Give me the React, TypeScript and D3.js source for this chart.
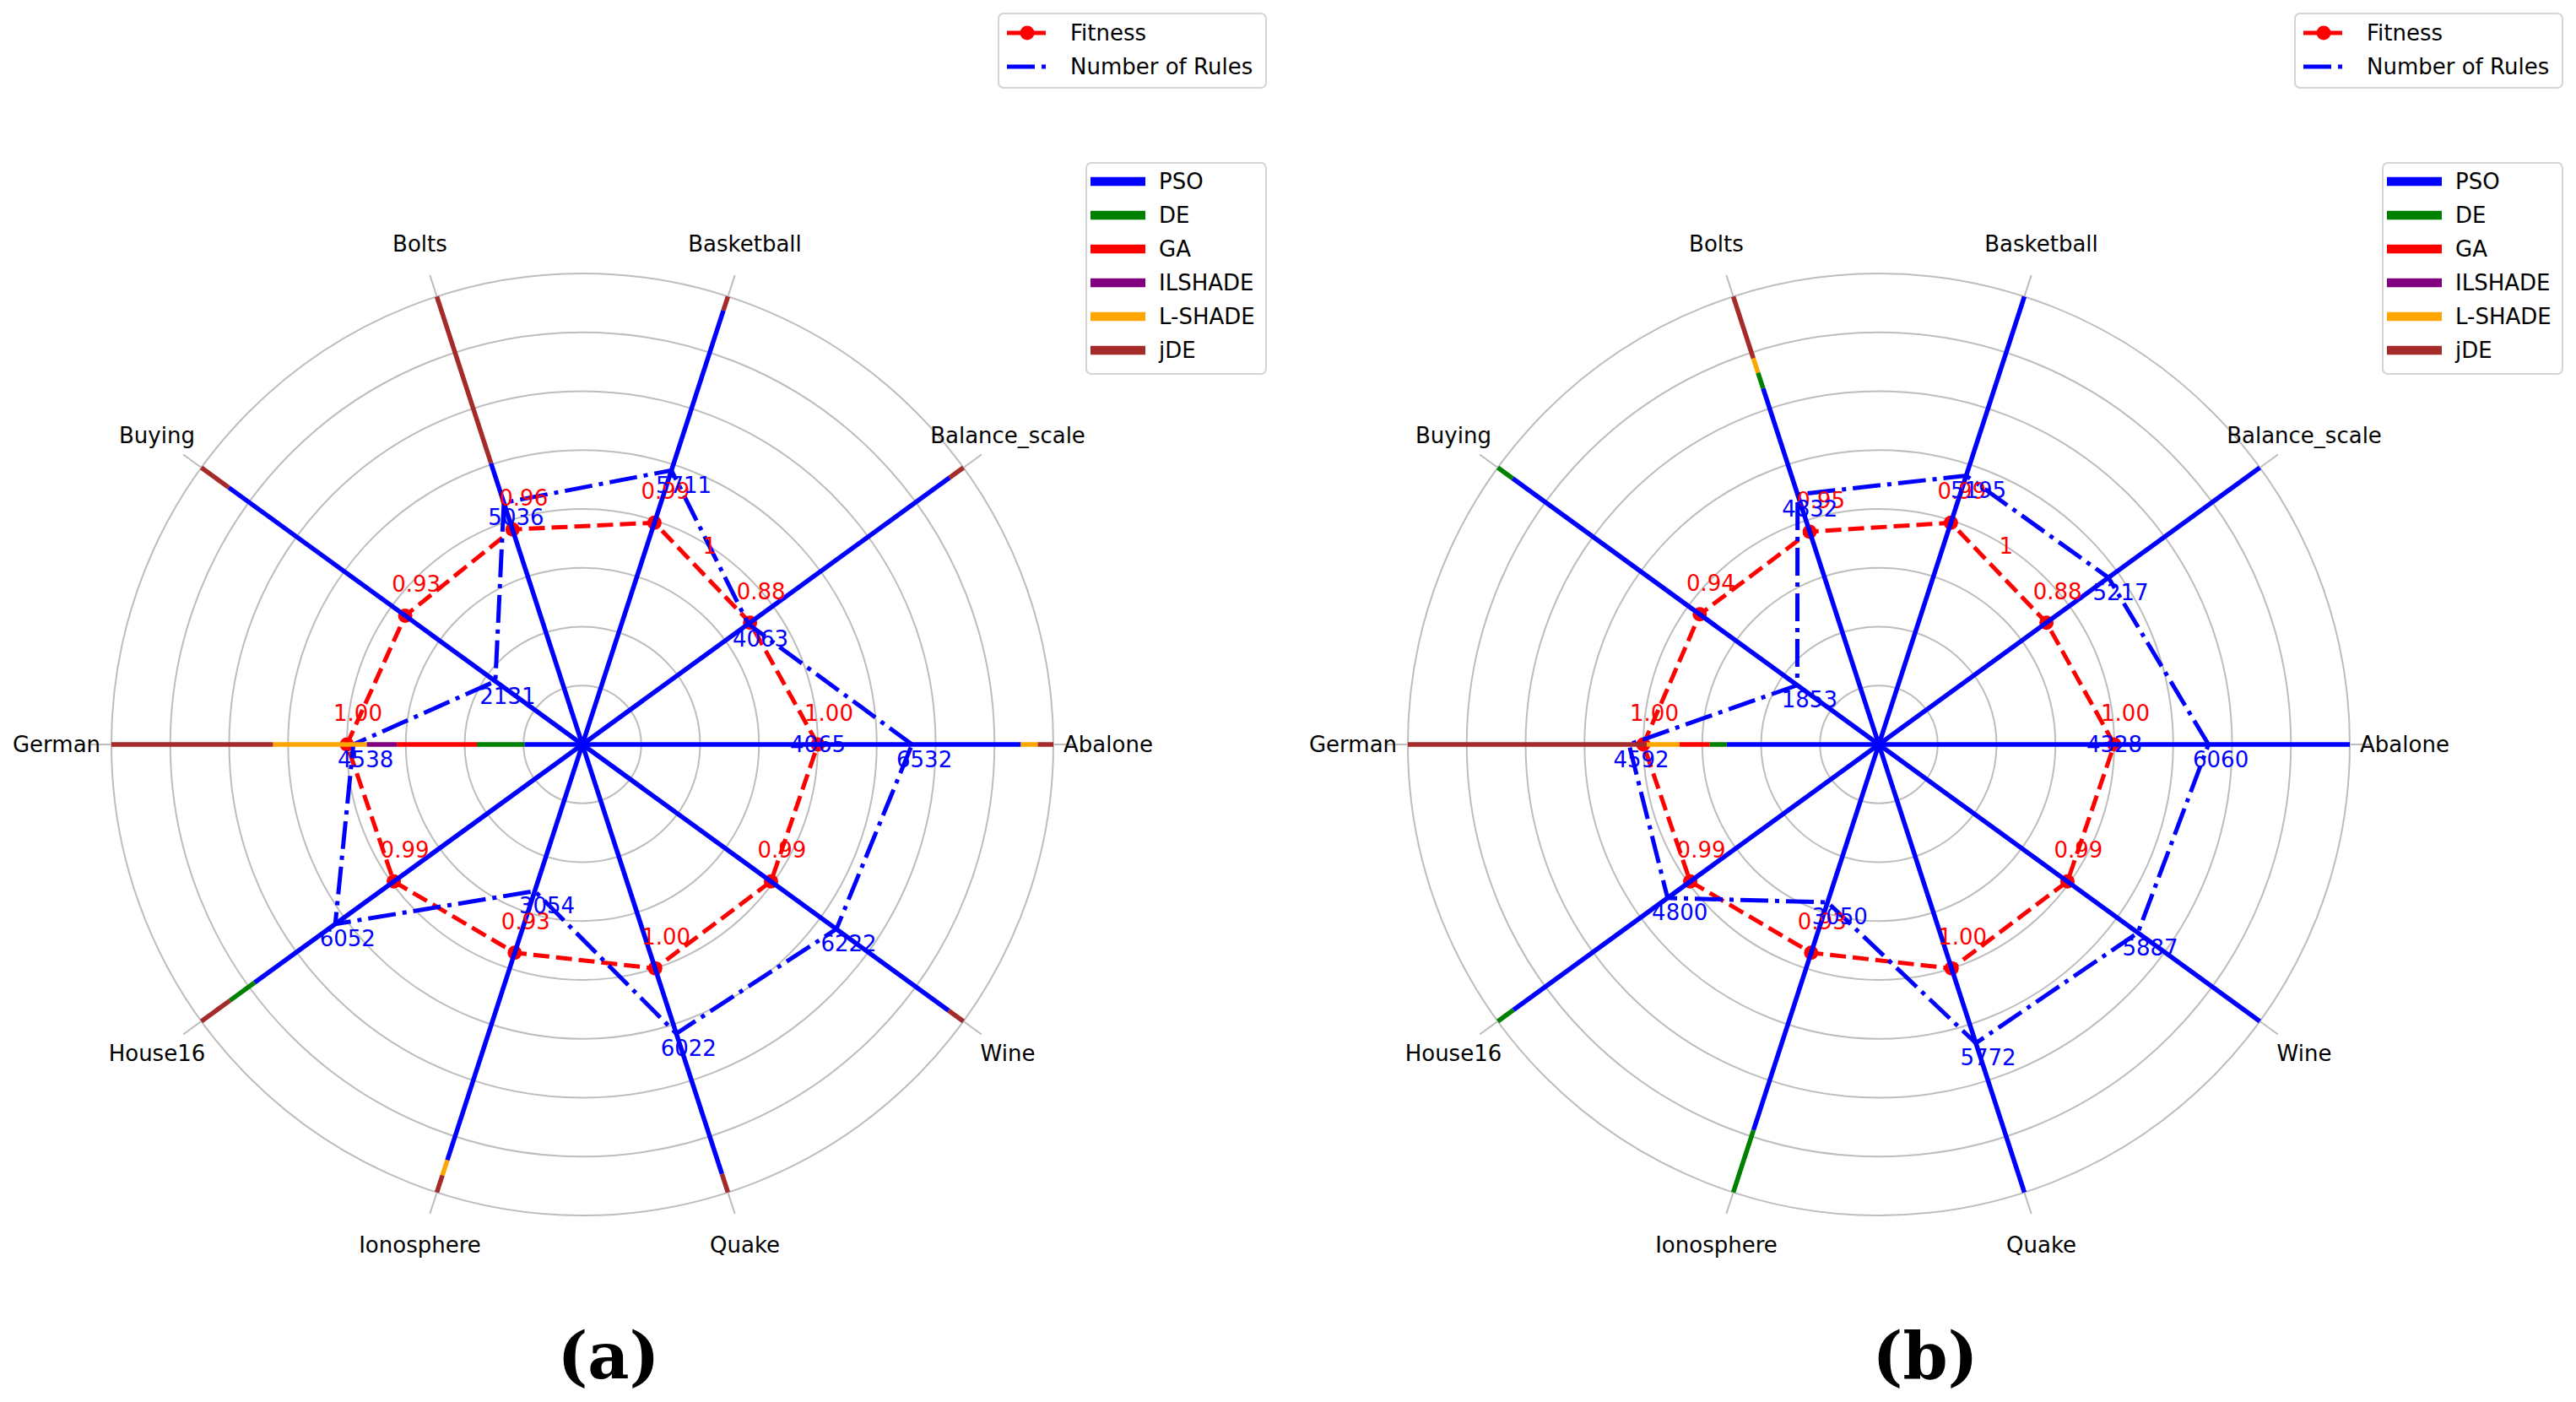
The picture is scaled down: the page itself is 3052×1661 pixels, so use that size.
import React from 'react';
import * as d3 from 'd3';

const categories = ['Abalone', 'Balance_scale', 'Basketball', 'Bolts', 'Buying', 'German', 'House16', 'Ionosphere', 'Quake', 'Wine'];
const algorithms = ['PSO', 'DE', 'GA', 'ILSHADE', 'L-SHADE', 'jDE'];
const algoColors = ['#0000ff', '#008000', '#ff0000', '#800080', '#ffa500', '#a52a2a'];

// ---- chart (a) ----
const fitnessA = [1.0, 0.88, 0.99, 0.96, 0.93, 1.0, 0.99, 0.93, 1.0, 0.99];
const rulesA = [6532, 4063, 5711, 5036, 2131, 4538, 6052, 3054, 6022, 6222];
// share (%) of each algorithm per dataset
const psoA = [93.1, 96.4, 96.9, 62.8, 92.8, 12.3, 86.0, 92.8, 95.9, 96.1];
const deA = [0, 0, 0, 0, 0, 10.1, 6.5, 0, 0, 0];
const gaA = [0, 0, 0, 0, 0, 17.0, 0, 0, 0, 0];
const ilshadeA = [0, 0, 0, 0, 0, 6.4, 0, 0, 0, 0];
const lshadeA = [3.6, 0, 0, 0, 0, 19.9, 0, 3.4, 0, 0];
const jdeA = [3.3, 3.6, 3.1, 37.2, 7.2, 34.3, 7.5, 3.8, 4.1, 3.9];
const extraTextA = ['4065', '1'];

// ---- chart (b) ----
const fitnessB = [1.0, 0.88, 0.99, 0.95, 0.94, 1.0, 0.99, 0.93, 1.0, 0.99];
const rulesB = [6060, 5217, 5195, 4832, 1853, 4592, 4800, 3050, 5772, 5887];
const psoB = [100, 100, 100, 79.5, 96.1, 32.3, 95.9, 86.1, 100, 100];
const deB = [0, 0, 0, 3.5, 3.9, 3.6, 4.1, 13.9, 0, 0];
const gaB = [0, 0, 0, 0, 0, 6.4, 0, 0, 0, 0];
const ilshadeB = [0, 0, 0, 0, 0, 0, 0, 0, 0, 0];
const lshadeB = [0, 0, 0, 3.25, 0, 7.0, 0, 0, 0, 0];
const jdeB = [0, 0, 0, 13.75, 0, 50.7, 0, 0, 0, 0];
const extraTextB = ['4328', '1'];

// angles (radians) of the two stray annotations, at radius 4 grid units
const extraAngles = [0, 1];
const extraRadius = 4;

const panelTitles = ['(a)', '(b)'];
const legendTop = ['Fitness', 'Number of Rules'];

const FONT = '"DejaVu Sans", Verdana, sans-serif';
const W = 3052;
const H = 1661;

type Panel = {
  cx: number;
  titleX: number;
  fitness: number[];
  rules: number[];
  shares: number[][];
  extra: string[];
  title: string;
};

const panels: Panel[] = [
  { cx: 690, titleX: 721, fitness: fitnessA, rules: rulesA, shares: [psoA, deA, gaA, ilshadeA, lshadeA, jdeA], extra: extraTextA, title: panelTitles[0] },
  { cx: 2226, titleX: 2281, fitness: fitnessB, rules: rulesB, shares: [psoB, deB, gaB, ilshadeB, lshadeB, jdeB], extra: extraTextB, title: panelTitles[1] },
];

const CY = 882;
const RING_R = 558; // radius of 8th ring
const r = d3.scaleLinear().domain([0, 8]).range([0, RING_R]);
const rings = d3.range(1, 9);
const N = categories.length;
const angle = (i: number) => (i * 2 * Math.PI) / N;

function Radar({ p }: { p: Panel }) {
  const { cx } = p;
  const pt = (a: number, rad: number): [number, number] => [cx + rad * Math.cos(a), CY - rad * Math.sin(a)];
  const fitR = d3.scaleLinear().domain([0, 2]).range([0, r(8)]);
  const maxRules = d3.max(p.rules) as number;
  const rulesR = d3.scaleLinear().domain([0, maxRules]).range([0, r(5.6)]);
  const shareR = d3.scaleLinear().domain([0, 100]).range([0, r(8)]);

  const fitPts = p.fitness.map((f, i) => pt(angle(i), fitR(f)));
  const rulePts = p.rules.map((v, i) => pt(angle(i), rulesR(v)));
  const line = d3.line().curve(d3.curveLinearClosed);

  const spokes: JSX.Element[] = [];
  categories.forEach((_, i) => {
    let cum = 0;
    p.shares.forEach((arr, k) => {
      const v = arr[i];
      if (v <= 0) return;
      const a0 = pt(angle(i), shareR(cum));
      const a1 = pt(angle(i), shareR(cum + v));
      cum += v;
      spokes.push(
        <line key={`s${i}-${k}`} x1={a0[0]} y1={a0[1]} x2={a1[0]} y2={a1[1]} stroke={algoColors[k]} strokeWidth={5.5} />
      );
    });
  });

  return (
    <g>
      {rings.map((k) => (
        <circle key={k} cx={cx} cy={CY} r={r(k)} fill="none" stroke="#bdbdbd" strokeWidth={2} />
      ))}
      {categories.map((_, i) => {
        const e = pt(angle(i), r(8.38));
        return <line key={i} x1={cx} y1={CY} x2={e[0]} y2={e[1]} stroke="#bdbdbd" strokeWidth={2} />;
      })}
      {categories.map((c, i) => {
        const e = pt(angle(i), 623);
        return (
          <text key={c} x={e[0]} y={e[1]} textAnchor="middle" dominantBaseline="central" fontSize={26} fontFamily={FONT} fill="#000">
            {c}
          </text>
        );
      })}
      <path d={line(fitPts) || ''} fill="none" stroke="#ff0000" strokeWidth={5} strokeDasharray="19 8" />
      {fitPts.map((q, i) => (
        <circle key={i} cx={q[0]} cy={q[1]} r={8.5} fill="#ff0000" />
      ))}
      <path d={line(rulePts) || ''} fill="none" stroke="#0000ff" strokeWidth={5} strokeDasharray="33 8 5 8" />
      {spokes}
      {fitPts.map((q, i) => (
        <text key={`ft${i}`} x={q[0] + 13} y={q[1] - 37} textAnchor="middle" dominantBaseline="central" fontSize={26} fontFamily={FONT} fill="#ff0000">
          {p.fitness[i].toFixed(2)}
        </text>
      ))}
      {rulePts.map((q, i) => (
        <text key={`rt${i}`} x={q[0] + 14.5} y={q[1] + 17.5} textAnchor="middle" dominantBaseline="central" fontSize={26} fontFamily={FONT} fill="#0000ff">
          {p.rules[i]}
        </text>
      ))}
      {p.extra.map((t, j) => {
        const q = pt(extraAngles[j], r(extraRadius));
        return (
          <text key={`ex${j}`} x={q[0]} y={q[1]} textAnchor="middle" dominantBaseline="central" fontSize={26} fontFamily={FONT} fill={j === 0 ? '#0000ff' : '#ff0000'}>
            {t}
          </text>
        );
      })}
      {/* legends */}
      <g transform={`translate(${cx + 493},0)`}>
        <rect x={0} y={16} width={317} height={88} rx={6} fill="#fff" stroke="#d4d4d4" strokeWidth={2} />
        <line x1={10} y1={39} x2={58} y2={39} stroke="#ff0000" strokeWidth={5} strokeDasharray="19 8" />
        <circle cx={34} cy={39} r={8.5} fill="#ff0000" />
        <text x={85} y={39} dominantBaseline="central" fontSize={26} fontFamily={FONT} fill="#000">{legendTop[0]}</text>
        <line x1={10} y1={79} x2={58} y2={79} stroke="#0000ff" strokeWidth={5} strokeDasharray="33 8 5 8" />
        <text x={85} y={79} dominantBaseline="central" fontSize={26} fontFamily={FONT} fill="#000">{legendTop[1]}</text>
      </g>
      <g transform={`translate(${cx + 597},0)`}>
        <rect x={0} y={193} width={213} height={250} rx={6} fill="#fff" stroke="#d4d4d4" strokeWidth={2} />
        {algorithms.map((a, k) => (
          <g key={a}>
            <line x1={5} y1={215 + 40 * k} x2={70} y2={215 + 40 * k} stroke={algoColors[k]} strokeWidth={10.5} />
            <text x={86} y={215 + 40 * k} dominantBaseline="central" fontSize={26} fontFamily={FONT} fill="#000">{a}</text>
          </g>
        ))}
      </g>
      <text x={p.titleX} y={1606} textAnchor="middle" dominantBaseline="central" fontSize={76} fontWeight="bold" fontFamily='"DejaVu Serif", "Liberation Serif", serif' fill="#000">
        {p.title}
      </text>
    </g>
  );
}

export default function App() {
  return (
    <svg width={W} height={H} style={{ position: 'absolute', left: 0, top: 0, background: '#fff' }} xmlns="http://www.w3.org/2000/svg">
      <rect x={0} y={0} width={W} height={H} fill="#fff" />
      {panels.map((p, i) => (
        <Radar key={i} p={p} />
      ))}
    </svg>
  );
}
